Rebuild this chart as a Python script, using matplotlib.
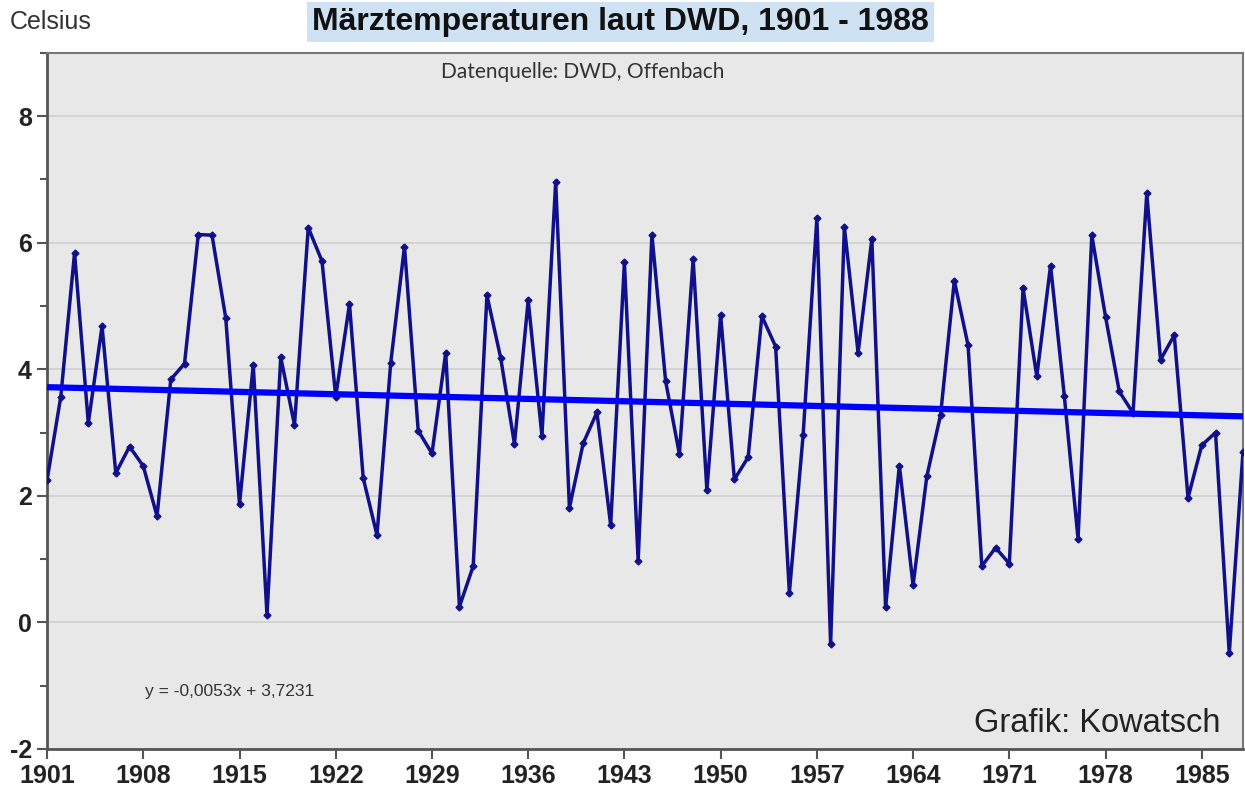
import matplotlib
matplotlib.use('Agg')
import matplotlib.pyplot as plt
from matplotlib.ticker import MultipleLocator
import numpy as np

plt.rcParams['axes.unicode_minus'] = False

# March mean temperatures (DWD)
years = list(range(1901, 1989))
temps = [
    2.25, 3.57, 5.84, 3.15, 4.68, 2.36, 2.78, 2.47, 1.68, 3.84,
    4.09, 6.13, 6.12, 4.81, 1.87, 4.07, 0.11, 4.19, 3.12, 6.24,
    5.71, 3.57, 5.03, 2.28, 1.38, 4.10, 5.94, 3.03, 2.67, 4.26,
    0.25, 0.89, 5.17, 4.18, 2.82, 5.09, 2.95, 6.96, 1.81, 2.83,
    3.32, 1.54, 5.69, 0.97, 6.13, 3.81, 2.66, 5.74, 2.09, 4.86,
    2.26, 2.61, 4.84, 4.36, 0.47, 2.96, 6.39, -0.34, 6.25, 4.26,
    6.06, 0.24, 2.48, 0.59, 2.31, 3.28, 5.40, 4.38, 0.89, 1.18,
    0.93, 5.28, 3.89, 5.64, 3.58, 1.32, 6.12, 4.83, 3.65, 3.31,
    6.78, 4.15, 4.54, 1.97, 2.80, 3.00, -0.49, 2.70,
]

# linear trend as printed on the chart (x = 1 .. n)
slope = -0.0053
intercept = 3.7231
trend_label = "y = -0,0053x + 3,7231"

x_ticks = list(range(1901, 1989, 7))

NAVY = '#10108a'
BLUE = '#0000ff'
BG = '#e8e8e8'

fig = plt.figure(figsize=(12.45, 7.91), dpi=100)
ax = fig.add_axes([0.0378, 0.0531, 0.9606, 0.880])
ax.set_facecolor(BG)

ax.plot(years, temps, color=NAVY, linewidth=2.5, marker='D',
        markersize=3.5, markerfacecolor=NAVY, markeredgecolor=NAVY, zorder=3)

idx = np.arange(1, len(years) + 1)
ax.plot(years, slope * idx + intercept, color=BLUE, linewidth=4.5,
        solid_capstyle='butt', zorder=4)

ax.set_xlim(1901, 1988)
ax.set_ylim(-2, 9)
ax.set_xticks(x_ticks)
ax.yaxis.set_minor_locator(MultipleLocator(1))
ax.set_yticks([-2, 0, 2, 4, 6, 8])
ax.grid(axis='y', which='major', color='#cfcfcf', linewidth=1.2, zorder=0)
ax.set_axisbelow(True)

ax.tick_params(axis='both', which='major', direction='out', length=7,
               width=1.5, color='#555555', labelsize=18)
ax.tick_params(axis='y', which='minor', direction='out', length=5,
               width=1.5, color='#555555')
ax.tick_params(axis='y', pad=4)
ax.tick_params(axis='x', pad=4)
for lab in ax.get_xticklabels() + ax.get_yticklabels():
    lab.set_fontweight('bold')
    lab.set_family('Liberation Sans')
    lab.set_color('#222222')

for side in ['left', 'bottom']:
    ax.spines[side].set_color('#555555')
    ax.spines[side].set_linewidth(2)
for side in ['top', 'right']:
    ax.spines[side].set_color('#777777')
    ax.spines[side].set_linewidth(1.5)

fig.text(0.4983, 0.972, "Märztemperaturen laut DWD, 1901 - 1988",
         ha='center', va='center', fontsize=23, fontweight='bold',
         family='Liberation Sans', color='#111111',
         bbox=dict(boxstyle='square,pad=0.15', facecolor='#cfe2f3',
                   edgecolor='none'))
fig.text(0.008, 0.972, "Celsius", ha='left', va='center', fontsize=18,
         family='Liberation Sans', color='#333333')

ax.text(0.448, 0.973, "Datenquelle: DWD, Offenbach", transform=ax.transAxes,
        ha='center', va='center', fontsize=15, family='Lato', color='#333333')
ax.text(0.082, 0.083, trend_label, transform=ax.transAxes,
        ha='left', va='center', fontsize=12.5, family='Liberation Sans',
        color='#333333')
ax.text(0.981, 0.036, "Grafik: Kowatsch", transform=ax.transAxes,
        ha='right', va='center', fontsize=23.5, family='Liberation Sans',
        color='#222222')

fig.savefig('out.png', dpi=100, facecolor='white')
